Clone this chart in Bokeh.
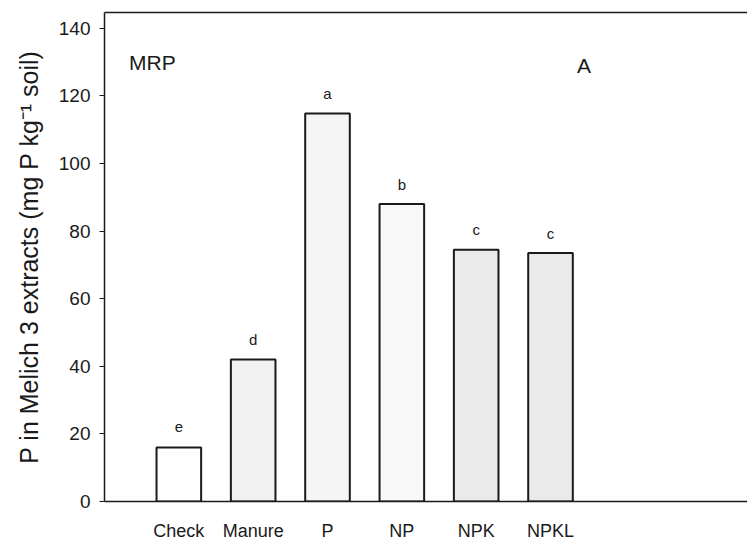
from bokeh.plotting import figure
from bokeh.models import Range1d, FixedTicker, LinearAxis, ColumnDataSource
from bokeh.core.properties import value
from bokeh.embed import file_html
from bokeh.resources import INLINE

treatments = ["Check", "Manure", "P", "NP", "NPK", "NPKL"]
p_values = [16.0, 42.0, 114.8, 88.0, 74.5, 73.5]
letters = ["e", "d", "a", "b", "c", "c"]
fills = ["#ffffff", "#f1f1f1", "#f5f5f5", "#f8f8f8", "#eaeaea", "#eaeaea"]
y_ticks = [0, 20, 40, 60, 80, 100, 120, 140]

xs = list(range(1, len(treatments) + 1))
src = ColumnDataSource(dict(x=xs, top=p_values, lab=letters, fill=fills))

FONT = "Liberation Sans"
INK = "#1a1a1a"

p = figure(width=747, height=543, output_backend="svg", toolbar_location=None,
           x_range=Range1d(0, 8.65), y_range=Range1d(0, 144.7),
           min_border_left=104, min_border_right=0, min_border_top=12,
           min_border_bottom=42)
p.outline_line_color = None
p.xgrid.visible = False
p.ygrid.visible = False
p.background_fill_color = "white"

p.vbar(x="x", top="top", bottom=0, width=0.6, source=src,
       fill_color="fill", line_color=INK, line_width=2)

p.text(x="x", y="top", text="lab", source=src, text_align="center",
       text_baseline="middle", y_offset=-20, text_font=value(FONT),
       text_font_size="15px", text_color=INK)

p.text(x=[0.33], y=[130], text=["MRP"], text_align="left", text_baseline="middle",
       text_font=value(FONT), text_font_size="21px", text_color=INK)
p.text(x=[6.45], y=[129], text=["A"], text_align="center", text_baseline="middle",
       text_font=value(FONT), text_font_size="21px", text_color=INK)

# y axis
ya = p.yaxis[0]
ya.ticker = FixedTicker(ticks=y_ticks)
ya.axis_label = "P in Melich 3 extracts (mg P kg\u207b\u00b9 soil)"
ya.axis_label_text_font = FONT
ya.axis_label_text_font_size = "25px"
ya.axis_label_text_font_style = "normal"
ya.axis_label_text_color = INK
ya.axis_label_standoff = 13
ya.major_label_text_font = FONT
ya.major_label_text_font_size = "19px"
ya.major_label_text_color = INK
ya.major_label_standoff = 9
ya.major_tick_out = 5
ya.major_tick_in = 0
ya.minor_tick_out = 0
ya.minor_tick_in = 0
ya.axis_line_width = 1.5
ya.axis_line_color = INK
ya.major_tick_line_color = INK

# x axis
xa = p.xaxis[0]
xa.ticker = FixedTicker(ticks=xs)
xa.major_label_overrides = {x: t for x, t in zip(xs, treatments)}
xa.major_label_text_font = FONT
xa.major_label_text_font_size = "18px"
xa.major_label_text_color = INK
xa.major_label_standoff = 19
xa.major_tick_out = 0
xa.major_tick_in = 0
xa.minor_tick_out = 0
xa.minor_tick_in = 0
xa.axis_line_width = 1.5
xa.axis_line_color = INK

# top frame line
top = LinearAxis(ticker=FixedTicker(ticks=[]), axis_line_color=INK, axis_line_width=1.5,
                 major_tick_out=0, major_tick_in=0, minor_tick_out=0, minor_tick_in=0,
                 major_label_standoff=0)
p.add_layout(top, "above")

open("out.html", "w").write(file_html(p, INLINE))
